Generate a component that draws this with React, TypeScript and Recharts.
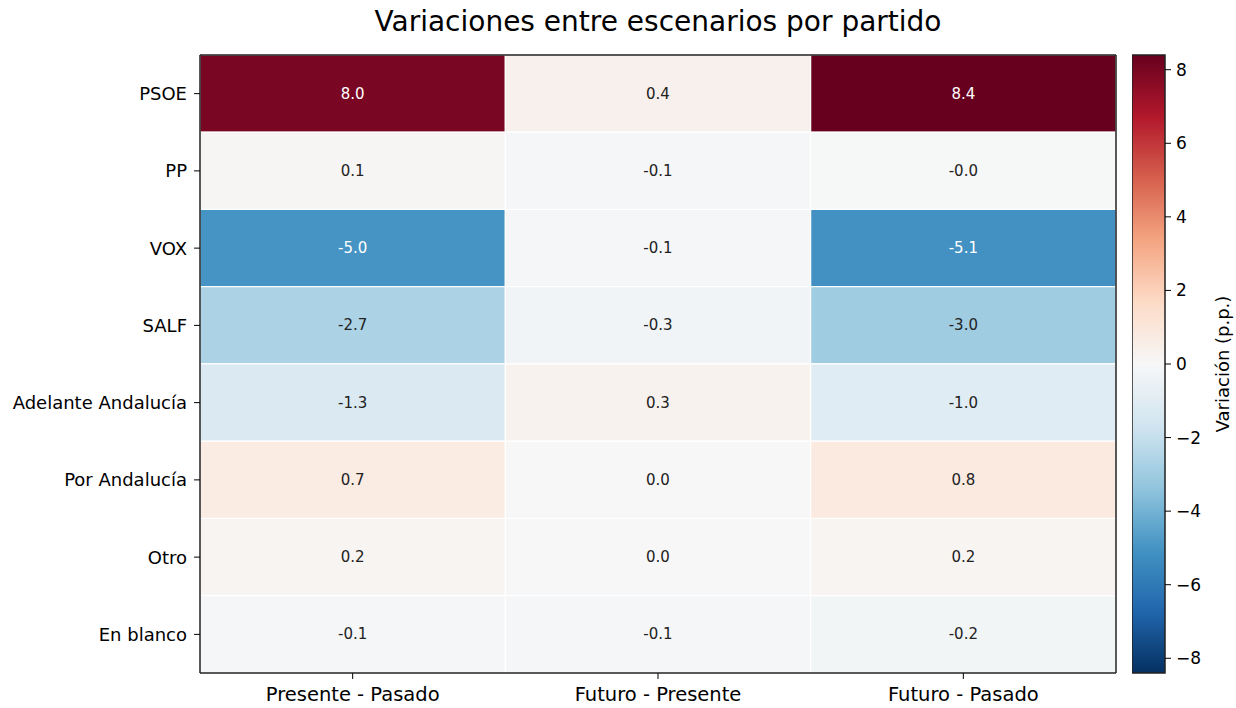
import { BarChart, Bar, XAxis, YAxis, Cell, LabelList } from "recharts";

const parties = ["PSOE", "PP", "VOX", "SALF", "Adelante Andalucía", "Por Andalucía", "Otro", "En blanco"];
const scenarios = ["Presente - Pasado", "Futuro - Presente", "Futuro - Pasado"];
const presentePasado = [8.0, 0.1, -5.0, -2.7, -1.3, 0.7, 0.2, -0.1];
const futuroPresente = [0.4, -0.1, -0.1, -0.3, 0.3, 0.0, 0.0, -0.1];
const futuroPasado = [8.4, -0.04, -5.1, -3.0, -1.0, 0.8, 0.2, -0.2];
const colorbarTicks = [-8, -6, -4, -2, 0, 2, 4, 6, 8];
const vmax = 8.4;

// RdBu reversed: from low (blue) to high (red)
const RDBU_R = ["#053061", "#2166ac", "#4393c3", "#92c5de", "#d1e5f0", "#f7f7f7", "#fddbc7", "#f4a582", "#d6604d", "#b2182b", "#67001f"];

const FONT = "DejaVu Sans, sans-serif";
const FRAME = "#222";

const hexToRgb = (h: string) => [1, 3, 5].map((i) => parseInt(h.slice(i, i + 2), 16));

const colorFor = (v: number) => {
  const t = Math.max(0, Math.min(1, (v + vmax) / (2 * vmax)));
  const pos = t * (RDBU_R.length - 1);
  const i = Math.min(Math.floor(pos), RDBU_R.length - 2);
  const f = pos - i;
  const a = hexToRgb(RDBU_R[i]);
  const b = hexToRgb(RDBU_R[i + 1]);
  const c = a.map((x, k) => Math.round(x + (b[k] - x) * f));
  return `rgb(${c[0]},${c[1]},${c[2]})`;
};

const series = [presentePasado, futuroPresente, futuroPasado];

const rows = parties.map((party, i) => ({
  party,
  c0: 1,
  c1: 1,
  c2: 1,
  v0: presentePasado[i],
  v1: futuroPresente[i],
  v2: futuroPasado[i],
}));

const renderValue = (props: any) => {
  const { x, y, width, height, value } = props;
  const v = Number(value);
  return (
    <text
      x={Number(x) + Number(width) / 2}
      y={Number(y) + Number(height) / 2}
      textAnchor="middle"
      dominantBaseline="central"
      fontSize={15}
      fontFamily={FONT}
      fill={Math.abs(v) > vmax / 2 ? "#fff" : "#222"}
    >
      {v.toFixed(1)}
    </text>
  );
};

const fmtMinus = (v: number) => String(v).replace("-", "\u2212");

export default function App() {
  return (
    <div style={{ position: "absolute", left: 0, top: 0, width: 1236, height: 708, background: "#fff", overflow: "hidden", fontFamily: FONT }}>
      <div style={{ position: "absolute", left: 200, width: 916, top: 5, textAlign: "center", fontSize: 28, color: "#000" }}>
        Variaciones entre escenarios por partido
      </div>
      <div style={{ position: "absolute", left: 0, top: 0 }}>
        <BarChart
          width={1236}
          height={708}
          data={rows}
          layout="vertical"
          margin={{ top: 54, right: 119, bottom: 5, left: 0 }}
          barCategoryGap={0}
        >
          <XAxis
            type="number"
            domain={[0, 3]}
            ticks={[0.5, 1.5, 2.5]}
            tickFormatter={(t: number) => scenarios[Math.floor(t)]}
            height={30}
            tickMargin={8}
            axisLine={{ stroke: FRAME, strokeWidth: 1.5 }}
            tickLine={{ stroke: "#000" }}
            tick={{ fill: "#000", fontSize: 19.5, fontFamily: FONT }}
          />
          <XAxis
            xAxisId="top"
            orientation="top"
            type="number"
            domain={[0, 3]}
            height={1}
            tick={false}
            tickLine={false}
            axisLine={{ stroke: FRAME, strokeWidth: 1.5 }}
          />
          <YAxis
            type="category"
            dataKey="party"
            width={200}
            tickMargin={7}
            axisLine={{ stroke: FRAME, strokeWidth: 1.5 }}
            tickLine={{ stroke: "#000" }}
            tick={{ fill: "#000", fontSize: 18, fontFamily: FONT }}
          />
          <YAxis
            yAxisId="right"
            orientation="right"
            type="category"
            dataKey="party"
            width={1}
            tick={false}
            tickLine={false}
            axisLine={{ stroke: FRAME, strokeWidth: 1.5 }}
          />
          {series.map((vals, s) => (
            <Bar key={s} dataKey={`c${s}`} stackId="a" isAnimationActive={false}>
              {vals.map((v, i) => (
                <Cell key={i} fill={colorFor(v)} stroke="#fff" strokeWidth={1.2} />
              ))}
              <LabelList dataKey={`v${s}`} content={renderValue} />
            </Bar>
          ))}
        </BarChart>
      </div>
      <div style={{ position: "absolute", left: 1132, top: 0 }}>
        <BarChart
          width={104}
          height={708}
          data={[{ k: "cb", r: [-vmax, vmax] }]}
          margin={{ top: 55, right: 0, bottom: 35, left: 0 }}
          barCategoryGap={0}
        >
          <defs>
            <linearGradient id="cbGrad" x1="0" y1="1" x2="0" y2="0">
              {RDBU_R.map((c, i) => (
                <stop key={i} offset={i / (RDBU_R.length - 1)} stopColor={c} />
              ))}
            </linearGradient>
          </defs>
          <XAxis dataKey="k" type="category" hide />
          <YAxis
            orientation="right"
            type="number"
            domain={[-vmax, vmax]}
            ticks={colorbarTicks}
            width={71}
            tickMargin={5}
            axisLine={false}
            tickLine={{ stroke: "#000" }}
            tickFormatter={fmtMinus}
            tick={{ fill: "#000", fontSize: 17, fontFamily: FONT }}
            label={{
              value: "Variación (p.p.)",
              content: (p: any) => {
                const vb = p.viewBox || {};
                const cx = vb.x + 57;
                const cy = vb.y + vb.height / 2;
                return (
                  <text x={cx} y={cy} transform={`rotate(-90 ${cx} ${cy})`} textAnchor="middle" dominantBaseline="central" fontSize={18} fontFamily={FONT} fill="#000">
                    Variación (p.p.)
                  </text>
                );
              },
            }}
          />
          <Bar dataKey="r" fill="url(#cbGrad)" stroke={FRAME} strokeWidth={1.5} isAnimationActive={false} />
        </BarChart>
      </div>
    </div>
  );
}
